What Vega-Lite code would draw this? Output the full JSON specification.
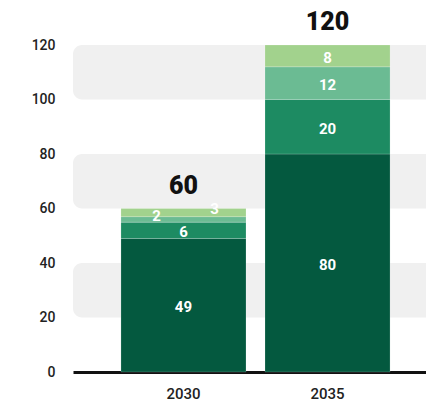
{
  "$schema": "https://vega.github.io/schema/vega-lite/v6.json",
  "autosize": {"type": "none"},
  "padding": {"left": 73, "top": 45, "right": 0, "bottom": 30},
  "width": 365,
  "height": 327,
  "background": "white",
  "config": {"view": {"stroke": null}, "font": "Roboto"},
  "datasets": {
    "bars": [
      {"year": "2030", "seg": "s1", "value": 49},
      {"year": "2030", "seg": "s2", "value": 6},
      {"year": "2030", "seg": "s3", "value": 2},
      {"year": "2030", "seg": "s4", "value": 3},
      {"year": "2035", "seg": "s1", "value": 80},
      {"year": "2035", "seg": "s2", "value": 20},
      {"year": "2035", "seg": "s3", "value": 12},
      {"year": "2035", "seg": "s4", "value": 8}
    ],
    "bands": [
      {"lo": 100, "hi": 120},
      {"lo": 60, "hi": 80},
      {"lo": 20, "hi": 40}
    ]
  },
  "layer": [
    {
      "data": {"name": "bands"},
      "mark": {"type": "rect", "color": "#f0f0f0", "cornerRadius": 9},
      "encoding": {
        "y": {"field": "lo", "type": "quantitative"},
        "y2": {"field": "hi"}
      }
    },
    {
      "data": {"name": "bars"},
      "layer": [
        {
          "mark": {"type": "bar", "stroke": "#ffffff", "strokeWidth": 0.3, "strokeOpacity": 0.6},
          "encoding": {
            "x": {
              "field": "year", "type": "nominal",
              "scale": {"paddingInner": 0.132, "paddingOuter": 0.333},
              "axis": {"title": null, "labelAngle": 0, "ticks": false, "domainColor": "#111", "domainWidth": 3, "labelFontSize": 15, "labelFontWeight": 500, "labelColor": "#222", "labelPadding": 14}
            },
            "y": {
              "field": "value", "type": "quantitative", "stack": "zero",
              "scale": {"domain": [0, 120], "nice": false},
              "axis": {"title": null, "values": [0, 20, 40, 60, 80, 100, 120], "grid": false, "domain": false, "ticks": false, "labelPadding": 18, "labelFontSize": 14, "labelFontWeight": 500, "labelColor": "#222"}
            },
            "color": {
              "field": "seg", "type": "nominal",
              "scale": {"domain": ["s1", "s2", "s3", "s4"], "range": ["#04593f", "#1d8b62", "#6bbb93", "#a2d28d"]},
              "legend": null
            },
            "order": {"field": "seg", "sort": "ascending"}
          }
        },
        {
          "transform": [{"filter": "datum.year == '2035' || datum.seg == 's1' || datum.seg == 's2'"}],
          "mark": {"type": "text", "color": "white", "fontWeight": "bold", "fontSize": 15, "dy": 2},
          "encoding": {
            "x": {"field": "year", "type": "nominal"},
            "y": {"field": "value", "type": "quantitative", "stack": "zero", "bandPosition": 0.5},
            "detail": {"field": "seg"},
            "order": {"field": "seg", "sort": "ascending"},
            "text": {"field": "value", "type": "quantitative"}
          }
        },
        {
          "transform": [{"filter": "datum.year == '2030' && datum.seg == 's3'"}],
          "mark": {"type": "text", "color": "white", "fontWeight": "bold", "fontSize": 15, "dx": -27, "dy": -3, "text": "2"},
          "encoding": {
            "x": {"field": "year", "type": "nominal"},
            "y": {"datum": 56, "type": "quantitative"}
          }
        },
        {
          "transform": [{"filter": "datum.year == '2030' && datum.seg == 's4'"}],
          "mark": {"type": "text", "color": "white", "fontWeight": "bold", "fontSize": 15, "dx": 31, "dy": -4, "text": "3"},
          "encoding": {
            "x": {"field": "year", "type": "nominal"},
            "y": {"datum": 58.5, "type": "quantitative"}
          }
        },
        {
          "mark": {"type": "text", "color": "#111", "fontWeight": 900, "fontSize": 25, "baseline": "alphabetic", "dy": -15},
          "encoding": {
            "x": {"field": "year", "type": "nominal"},
            "y": {"aggregate": "sum", "field": "value", "type": "quantitative"},
            "text": {"aggregate": "sum", "field": "value", "type": "quantitative"}
          }
        }
      ]
    }
  ]
}
